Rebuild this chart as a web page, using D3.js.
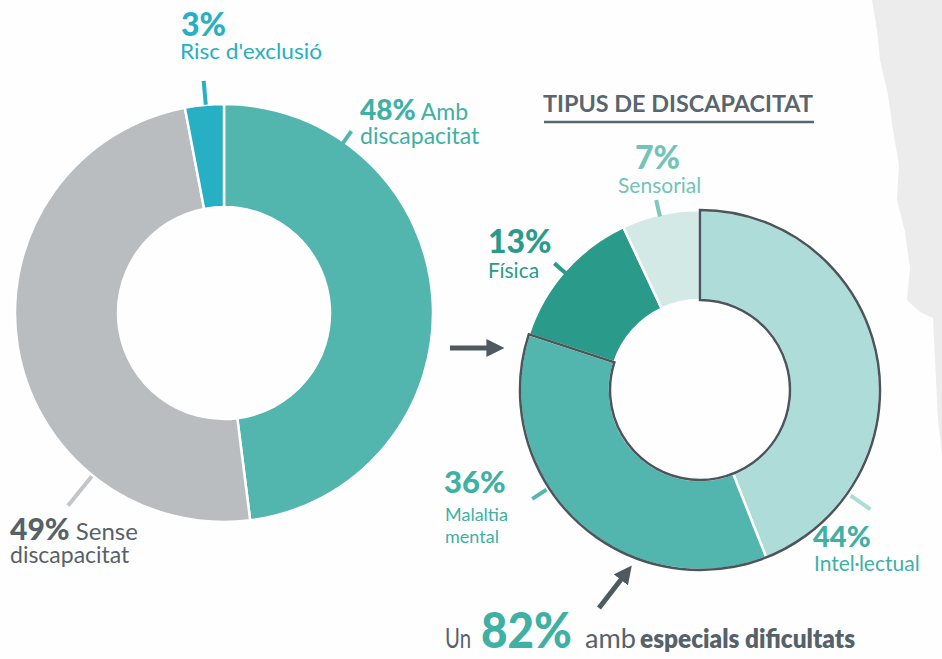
<!DOCTYPE html>
<html>
  <head>
    <meta charset="utf-8" />
    <title>Discapacitat</title>
    <style>
      body,
      html {
        margin: 0;
        padding: 0;
        background: #fefefe;
      }
      svg {
        display: block;
        font-family: Lato, 'Open Sans', sans-serif;
      }
    </style>
  </head>
  <body>
    <svg id="svg" width="942" height="659"></svg>
    <script src="https://cdn.jsdelivr.net/npm/d3@7"></script>
    <script>
      // left donut: whole group
      const groupLabels = ['Amb discapacitat', 'Sense discapacitat', "Risc d'exclusió"];
      const groupValues = [48, 49, 3];
      const groupColors = ['#52b6ae', '#b9bdc0', '#27afc4'];

      // right donut: type of disability
      const typeLabels = ['Intel·lectual', 'Malaltia mental', 'Física', 'Sensorial'];
      const typeValues = [44, 36, 13, 7];
      const typeColors = ['#aedcd9', '#52b6ae', '#2a9a8a', '#d3e9e6'];
      const highlighted = ['Intel·lectual', 'Malaltia mental'];
      const highlightedTotal = 82;

      const svg = d3.select('#svg');
      const dark = '#56626a';

      // torn paper on the right edge (decoration)
      svg
        .append('path')
        .attr(
          'd',
          'M872,0 L877,30 L880,60 L888,95 L893,130 L899,165 L897,200 L905,232 L910,268 L907,300 L920,312 L933,318 L935,360 L938,420 L942,455 L942,0 Z'
        )
        .attr('fill', '#ececec');

      const pie = d3
        .pie()
        .sort(null)
        .value((d) => d.value);

      function drawDonut(labels, values, colors, cx, cy, r0, r1) {
        const data = labels.map((label, i) => ({ label, value: values[i], color: colors[i] }));
        const arcs = pie(data);
        const arc = d3.arc().innerRadius(r0).outerRadius(r1);
        const g = svg.append('g').attr('transform', `translate(${cx},${cy})`);
        g.selectAll('path')
          .data(arcs)
          .join('path')
          .attr('d', arc)
          .attr('fill', (d) => d.data.color)
          .attr('stroke', '#fff')
          .attr('stroke-width', 2.5);
        return { g, arcs };
      }

      const left = drawDonut(groupLabels, groupValues, groupColors, 224, 313, 106, 209);
      const right = drawDonut(typeLabels, typeValues, typeColors, 700, 390, 90, 180);

      // outline around the highlighted slices
      const hiArcs = right.arcs.filter((d) => highlighted.includes(d.data.label));
      right.g
        .append('path')
        .attr(
          'd',
          d3
            .arc()
            .innerRadius(90)
            .outerRadius(180)
            .startAngle(d3.min(hiArcs, (d) => d.startAngle))
            .endAngle(d3.max(hiArcs, (d) => d.endAngle))()
        )
        .attr('fill', 'none')
        .attr('stroke', '#4a555c')
        .attr('stroke-width', 2.5);

      // leader lines: angle in degrees clockwise from 12 o'clock
      function leader(g, deg, ra, rb, color) {
        const a = (deg * Math.PI) / 180;
        g.append('line')
          .attr('x1', ra * Math.sin(a))
          .attr('y1', -ra * Math.cos(a))
          .attr('x2', rb * Math.sin(a))
          .attr('y2', -rb * Math.cos(a))
          .attr('stroke', color)
          .attr('stroke-width', 4);
      }
      leader(left.g, -5, 209, 233, '#27afc4');
      leader(left.g, 35, 198, 222, '#52b6ae');
      leader(left.g, 219, 210, 248, '#c3c6c8');
      leader(right.g, 347, 178, 195, '#7fc7bc');
      leader(right.g, 311, 176, 193, '#2a9a8a');
      leader(right.g, 237, 183, 200, '#52b6ae');
      leader(right.g, 125, 184, 208, '#aedcd9');

      // text helper
      function label(x, y, parts) {
        const t = svg.append('text').attr('x', x).attr('y', y);
        parts.forEach((p) => {
          t.append('tspan')
            .text(p.text)
            .attr('font-size', p.size)
            .attr('font-weight', p.weight || 400)
            .attr('fill', p.color);
        });
        return t;
      }
      const pct = (v) => `${v}%`;

      // left labels
      label(181, 36, [{ text: pct(groupValues[2]), size: 32, weight: 900, color: '#27afc4' }]);
      label(180, 59, [{ text: groupLabels[2], size: 21, color: '#27afc4' }])
        .attr('textLength', 142)
        .attr('lengthAdjust', 'spacingAndGlyphs');

      label(360, 120, [
        { text: pct(groupValues[0]), size: 28, weight: 900, color: '#3fb0a4' },
        { text: ' Amb', size: 23, color: '#3fb0a4' },
      ]);
      label(360, 144, [{ text: 'discapacitat', size: 23, color: '#3fb0a4' }]);

      label(10, 540, [
        { text: pct(groupValues[1]), size: 30, weight: 900, color: dark },
        { text: ' Sense', size: 24, color: dark },
      ]);
      label(10, 563, [{ text: 'discapacitat', size: 23, color: dark }]);

      // title
      svg
        .append('text')
        .attr('x', 543)
        .attr('y', 112)
        .attr('font-size', 23)
        .attr('font-weight', 700)
        .attr('fill', '#5a666e')
        .attr('textLength', 270)
        .attr('lengthAdjust', 'spacingAndGlyphs')
        .text('TIPUS DE  DISCAPACITAT');
      svg
        .append('line')
        .attr('x1', 544)
        .attr('x2', 814)
        .attr('y1', 122)
        .attr('y2', 122)
        .attr('stroke', '#5a666e')
        .attr('stroke-width', 2.5);

      // right labels
      label(635, 169, [{ text: pct(typeValues[3]), size: 32, weight: 900, color: '#72c3b8' }]);
      label(618, 193, [{ text: typeLabels[3], size: 21, color: '#72c3b8' }]);

      label(488, 253, [{ text: pct(typeValues[2]), size: 32, weight: 900, color: '#2a9a8a' }]);
      label(488, 278, [{ text: typeLabels[2], size: 21, color: '#2a9a8a' }]);

      label(444, 493, [{ text: pct(typeValues[1]), size: 31, weight: 900, color: '#3fb0a4' }]);
      label(445, 521, [{ text: 'Malaltia', size: 18, color: '#3fb0a4' }]);
      label(445, 543, [{ text: 'mental', size: 18, color: '#3fb0a4' }]);

      label(813, 547, [{ text: pct(typeValues[0]), size: 29, weight: 900, color: '#3fb0a4' }]);
      label(814, 571, [{ text: typeLabels[0], size: 21, color: '#3fb0a4' }]);

      // arrows
      svg
        .append('defs')
        .append('marker')
        .attr('id', 'head')
        .attr('viewBox', '0 0 10 10')
        .attr('refX', 2)
        .attr('refY', 5)
        .attr('markerWidth', 3.6)
        .attr('markerHeight', 3.6)
        .attr('orient', 'auto')
        .append('path')
        .attr('d', 'M0,0 L10,5 L0,10 Z')
        .attr('fill', '#4e5960');
      svg
        .append('line')
        .attr('x1', 450)
        .attr('y1', 348)
        .attr('x2', 490)
        .attr('y2', 348)
        .attr('stroke', '#4e5960')
        .attr('stroke-width', 5)
        .attr('marker-end', 'url(#head)');
      svg
        .append('line')
        .attr('x1', 599)
        .attr('y1', 608)
        .attr('x2', 623)
        .attr('y2', 577)
        .attr('stroke', '#4e5960')
        .attr('stroke-width', 5)
        .attr('marker-end', 'url(#head)');

      // bottom sentence
      const sentence = [
        { text: 'Un', x: 445, size: 26, weight: 400, color: dark, len: 26 },
        { text: pct(highlightedTotal), x: 481, size: 49, weight: 900, color: '#3fb0a4', len: 91 },
        { text: 'amb', x: 585, size: 26, weight: 400, color: dark, len: 51 },
        { text: 'especials dificultats', x: 640, size: 26, weight: 800, color: dark, len: 215 },
      ];
      svg
        .selectAll('text.sentence')
        .data(sentence)
        .join('text')
        .attr('class', 'sentence')
        .attr('x', (d) => d.x)
        .attr('y', 648)
        .attr('font-size', (d) => d.size)
        .attr('font-weight', (d) => d.weight)
        .attr('fill', (d) => d.color)
        .attr('textLength', (d) => d.len)
        .attr('lengthAdjust', 'spacingAndGlyphs')
        .text((d) => d.text);
    </script>
  </body>
</html>
